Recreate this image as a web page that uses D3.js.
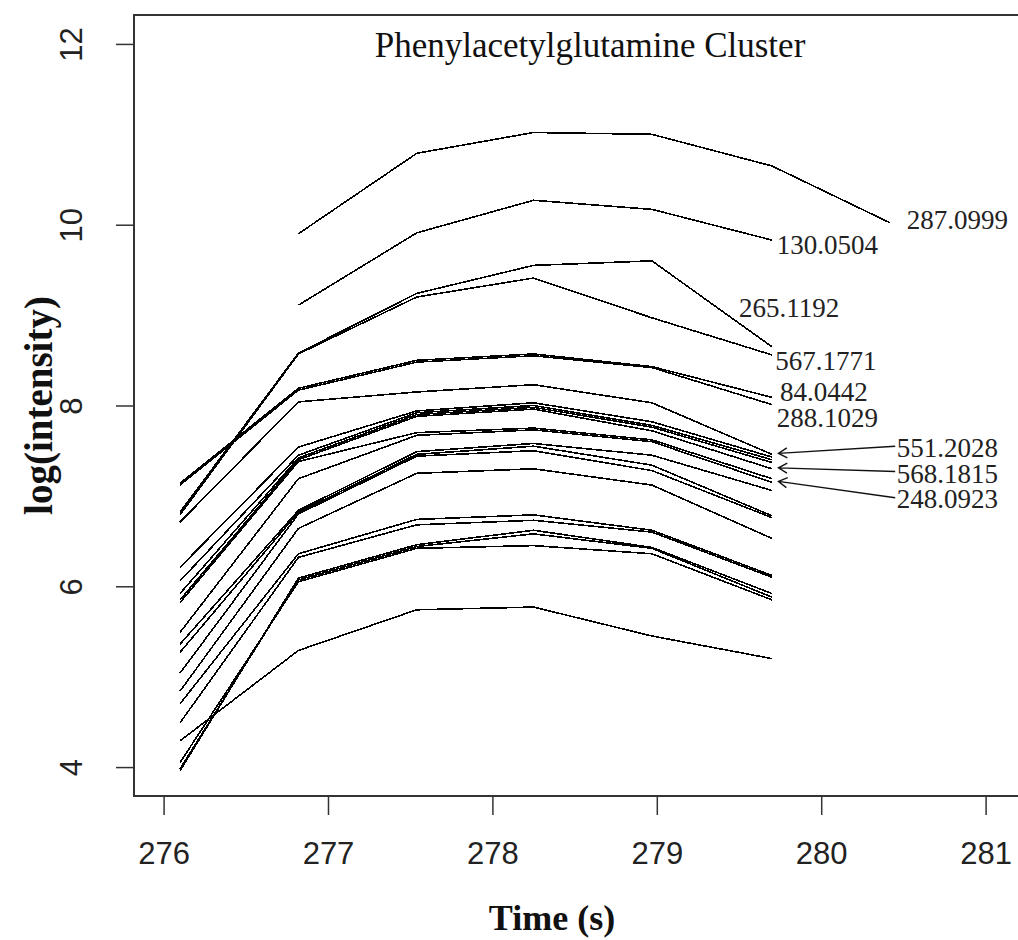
<!DOCTYPE html>
<html>
<head>
    <meta charset="utf-8">
    <title>Phenylacetylglutamine Cluster</title>
    <script src="https://cdn.jsdelivr.net/npm/d3@7"></script>
    <style>
        body { margin: 0; background: #fff; }
        .tick-label { font-family: "Liberation Sans", Arial, sans-serif; font-size: 31px; fill: #222; }
        .peak-label { font-family: "Liberation Serif", "Times New Roman", serif; font-size: 27px; fill: #222; }
        .axis-title { font-family: "Liberation Serif", "Times New Roman", serif; font-weight: bold; font-size: 36px; fill: #111; }
    </style>
</head>
<body>
<script>
    // scan times (s)
    var times = [276.10, 276.82, 277.54, 278.25, 278.97, 279.70, 280.42];

    // labelled profiles, log(intensity) per scan (null = not detected)
    var mz287_0999 = [null, 9.90, 10.79, 11.02, 11.00, 10.65, 10.02];
    var mz130_0504 = [null, 9.11, 9.91, 10.27, 10.17, 9.83, null];
    var mz265_1192 = [6.82, 8.58, 9.24, 9.55, 9.60, 8.65, null];
    var mz567_1771 = [6.79, 8.57, 9.20, 9.41, 8.97, 8.56, null];
    var mz84_0442 = [7.14, 8.19, 8.50, 8.57, 8.43, 8.09, null];
    var mz288_1029 = [7.12, 8.17, 8.48, 8.55, 8.42, 8.01, null];
    var mz551_2028 = [6.71, 8.04, 8.15, 8.23, 8.03, 7.46, null];
    var mz568_1815 = [5.85, 7.40, 7.88, 7.96, 7.72, 7.30, null];
    var mz248_0923 = [5.49, 7.19, 7.67, 7.73, 7.60, 7.15, null];

    // the other members of the cluster (no label)
    var others = [
        [6.21, 7.54, 7.94, 8.03, 7.82, 7.43, null],
        [6.06, 7.45, 7.92, 8.00, 7.78, 7.40, null],
        [5.92, 7.42, 7.90, 7.98, 7.76, 7.37, null],
        [5.82, 7.38, 7.70, 7.75, 7.62, 7.19, null],
        [5.36, 6.84, 7.49, 7.58, 7.45, 7.06, null],
        [5.27, 6.82, 7.46, 7.55, 7.34, 6.78, null],
        [5.04, 6.80, 7.44, 7.50, 7.28, 6.76, null],
        [4.84, 6.64, 7.25, 7.30, 7.12, 6.53, null],
        [4.70, 6.36, 6.74, 6.79, 6.62, 6.12, null],
        [4.49, 6.32, 6.68, 6.73, 6.60, 6.10, null],
        [3.96, 6.09, 6.46, 6.62, 6.43, 5.92, null],
        [3.98, 6.07, 6.44, 6.58, 6.42, 5.88, null],
        [4.05, 6.05, 6.42, 6.45, 6.36, 5.85, null],
        [4.29, 5.29, 5.74, 5.77, 5.45, 5.20, null]
    ];

    // text labels: where each one starts (time, log intensity)
    var labelText = ["287.0999", "130.0504", "265.1192", "567.1771", "84.0442", "288.1029", "551.2028", "568.1815", "248.0923"];
    var labelT = [280.52, 279.73, 279.50, 279.72, 279.75, 279.73, 280.46, 280.46, 280.46];
    var labelV = [10.06, 9.78, 9.08, 8.50, 8.15, 7.87, 7.53, 7.25, 6.97];

    // arrows from the last three labels back to their line ends
    var arrowFromT = [280.45, 280.45, 280.45];
    var arrowFromV = [7.55, 7.27, 6.98];
    var arrowToT = [279.74, 279.74, 279.74];
    var arrowToV = [7.47, 7.31, 7.16];

    var xTicks = [276, 277, 278, 279, 280, 281];
    var yTicks = [4, 6, 8, 10, 12];

    var width = 1018, height = 940;
    var plotLeft = 134, plotTop = 15, plotRight = 1030, plotBottom = 796;

    var svg = d3.select("body").append("svg")
        .attr("width", width)
        .attr("height", height);

    // x/y scales, r-style 4% padding around xlim/ylim
    var x = d3.scaleLinear().domain([275.82, 281.27]).range([plotLeft, plotRight]);
    var y = d3.scaleLinear().domain([3.68, 12.32]).range([plotBottom, plotTop]);

    var allSeries = [mz287_0999, mz130_0504, mz265_1192, mz567_1771, mz84_0442,
        mz288_1029, mz551_2028, mz568_1815, mz248_0923].concat(others);

    var line = d3.line()
        .defined(function (d) { return d != null; })
        .x(function (d, i) { return x(times[i]); })
        .y(function (d) { return y(d); });

    svg.append("g")
        .selectAll("path")
        .data(allSeries)
        .enter()
        .append("path")
        .attr("d", line)
        .attr("fill", "none")
        .attr("stroke", "#000")
        .attr("stroke-width", 1.6)
        .attr("shape-rendering", "crispEdges");

    // box
    svg.append("rect")
        .attr("x", plotLeft).attr("y", plotTop)
        .attr("width", plotRight - plotLeft).attr("height", plotBottom - plotTop)
        .attr("fill", "none")
        .attr("stroke", "#333")
        .attr("stroke-width", 2);

    // x axis
    var xAxis = d3.axisBottom(x).tickValues(xTicks).tickSize(19).tickFormat(d3.format("d"));
    var gx = svg.append("g")
        .attr("transform", "translate(0," + plotBottom + ")")
        .call(xAxis);
    gx.select(".domain").remove();
    gx.selectAll("line").attr("stroke", "#333").attr("stroke-width", 1.5);
    gx.selectAll("text")
        .attr("class", "tick-label")
        .attr("y", 57)
        .attr("dy", "0.35em");
    gx.attr("font-family", null).attr("font-size", null);

    // y axis, labels parallel to the axis
    var yAxis = d3.axisLeft(y).tickValues(yTicks).tickSize(18).tickFormat(d3.format("d"));
    var gy = svg.append("g")
        .attr("transform", "translate(" + plotLeft + ",0)")
        .call(yAxis);
    gy.select(".domain").remove();
    gy.attr("font-family", null).attr("font-size", null);
    gy.selectAll("line").attr("stroke", "#333").attr("stroke-width", 1.5);
    gy.selectAll("text")
        .attr("class", "tick-label")
        .attr("x", null)
        .attr("text-anchor", "middle")
        .attr("transform", "translate(-63,0) rotate(-90)")
        .attr("dy", "0.35em");

    // titles
    svg.append("text")
        .attr("x", 590)
        .attr("y", 57)
        .attr("text-anchor", "middle")
        .style("font-family", "'Liberation Serif', 'Times New Roman', serif")
        .style("font-size", "35px")
        .style("fill", "#111")
        .text("Phenylacetylglutamine Cluster");

    svg.append("text")
        .attr("class", "axis-title")
        .attr("x", 552)
        .attr("y", 930)
        .attr("text-anchor", "middle")
        .text("Time (s)");

    svg.append("text")
        .attr("class", "axis-title")
        .attr("text-anchor", "middle")
        .style("font-size", "39px")
        .attr("transform", "translate(52," + ((plotTop + plotBottom) / 2) + ") rotate(-90)")
        .text("log(intensity)");

    // peak labels
    svg.append("g")
        .selectAll("text")
        .data(labelText)
        .enter()
        .append("text")
        .attr("class", "peak-label")
        .attr("x", function (d, i) { return x(labelT[i]); })
        .attr("y", function (d, i) { return y(labelV[i]); })
        .attr("dy", "0.35em")
        .text(function (d) { return d; });

    // arrows with open heads
    var arrows = svg.append("g")
        .attr("stroke", "#111")
        .attr("stroke-width", 1.4)
        .attr("fill", "none");
    arrowToT.forEach(function (t, i) {
        var x0 = x(arrowFromT[i]), y0 = y(arrowFromV[i]);
        var x1 = x(t), y1 = y(arrowToV[i]);
        var ang = Math.atan2(y1 - y0, x1 - x0);
        var len = 10, spread = Math.PI / 6;
        arrows.append("path")
            .attr("d", "M" + x0 + "," + y0 + "L" + x1 + "," + y1 +
                "M" + (x1 - len * Math.cos(ang - spread)) + "," + (y1 - len * Math.sin(ang - spread)) +
                "L" + x1 + "," + y1 +
                "L" + (x1 - len * Math.cos(ang + spread)) + "," + (y1 - len * Math.sin(ang + spread)));
    });
</script>
</body>
</html>
